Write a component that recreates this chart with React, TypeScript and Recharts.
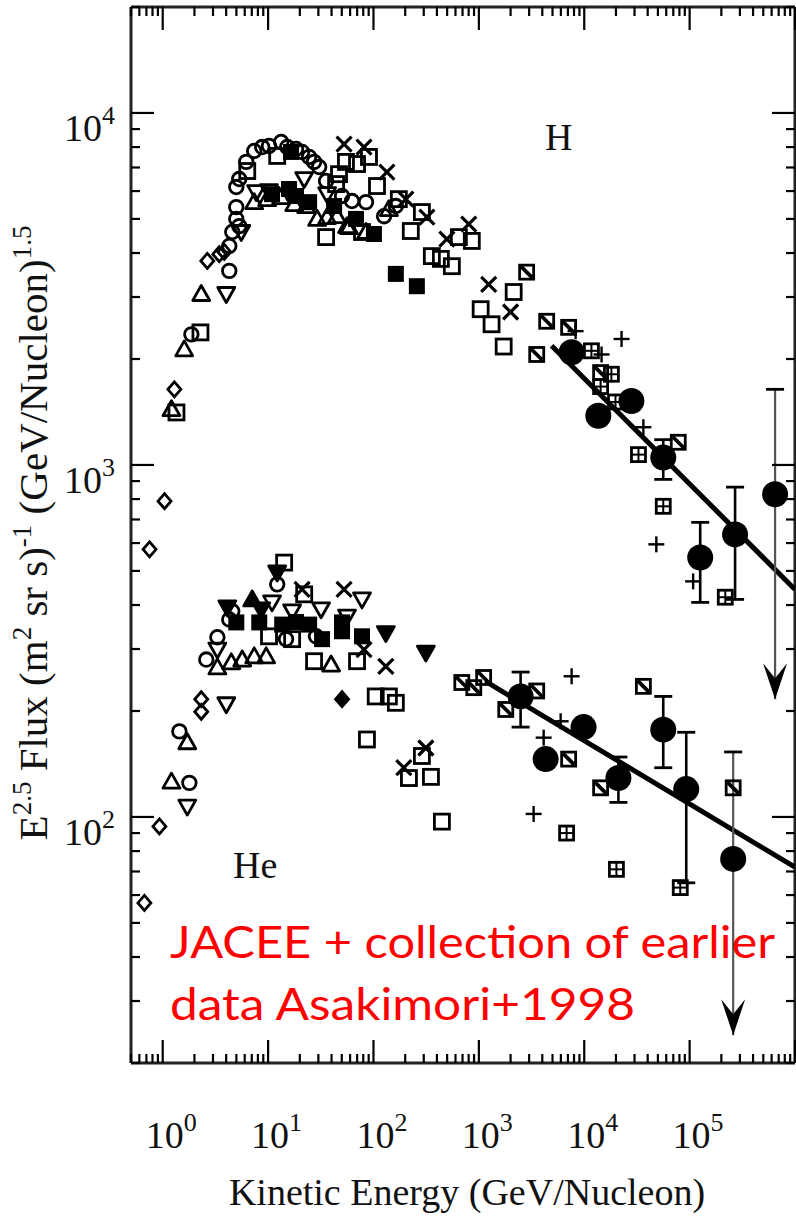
import React from "react";
import { ScatterChart, Scatter, XAxis, YAxis } from "recharts";

// Energy in GeV/nucleon, flux multiplied by E^2.5 — [energy, flux]
const H_DIAMOND = [[0.75, 576], [1.04, 789], [1.29, 1640], [2.65, 3800], [3.44, 3970], [3.84, 4030]];
const H_CIRCLE = [
  [1.87, 2350], [4.28, 3560], [4.28, 4190], [4.57, 4590], [4.99, 5000], [5.32, 4770], [4.99, 5400],
  [4.99, 6160], [5.32, 6490], [6.2, 7260], [7.38, 7800], [8.79, 8000], [10.2, 8060], [13.3, 8270],
  [15.2, 8000], [18.4, 7900], [21, 7750], [24.5, 7500], [27.3, 7260], [30.5, 7020], [35.5, 6410],
  [50.3, 5810], [62.5, 5620], [84.9, 5580], [126, 5090], [163, 5440],
];
const H_SQUARE = [
  [1.35, 1410], [2.28, 2380], [6.34, 6840], [12.2, 7550], [35.5, 4440], [47.1, 6700], [44.2, 6280],
  [54.8, 7260], [69.8, 7160], [90.6, 7500], [108, 6200], [77.8, 4590], [174, 5690], [288, 5230],
  [226, 4620], [358, 3920], [436, 3850], [554, 3670], [646, 4440], [857, 4330], [2140, 3100],
  [1040, 2770], [1320, 2510], [1720, 2170],
];
const H_TRI_UP = [
  [1.21, 1440], [1.6, 2130], [2.32, 3060], [7.38, 5580], [9.8, 5690], [13.3, 5770], [17.7, 5510],
  [23, 5440], [29.2, 5000], [36.3, 5060], [45.1, 5090], [56.1, 4770], [84.9, 4590], [58.6, 4740],
  [140, 5330],
];
const H_TRI_DOWN = [[4.01, 3060], [5.56, 4590], [7.71, 5960], [10.2, 6000], [22, 6490], [36.3, 5880]];
const H_FILLED_SQ = [
  [10.9, 5880], [15.8, 6080], [18.4, 5810], [16.5, 7750], [24.5, 5580], [42.3, 5440], [68.2, 5000],
  [101, 4530], [163, 3490], [258, 3220],
];
const H_CROSS = [
  [52.6, 8160], [81.3, 8000], [134, 6790], [203, 5690], [321, 5060], [497, 4380], [802, 4830],
  [1240, 3260], [2000, 2720],
];
const H_SLASH = [[2840, 3530], [4400, 2560], [7110, 2460], [3540, 2060], [14300, 1830], [78000, 1160]];
const H_GRID = [[11700, 2110], [18100, 1810], [14300, 1670], [19800, 1510], [32700, 1070], [56200, 763], [218000, 421]];
const H_PLUS = [[8280, 2400], [22600, 2280], [14600, 2060], [36400, 1280], [48300, 595], [108000, 467]];
const H_JACEE = [[7590, 2090], [13600, 1380], [28000, 1520], [56200, 1050], [126000, 546], [270000, 635], [647000, 826]];
const H_BARS = [
  { e: 56200, lo: 910, hi: 1180 },
  { e: 126000, lo: 407, hi: 687 },
  { e: 270000, lo: 415, hi: 865 },
];
const H_LIMIT = [{ e: 647000, lo: 216, hi: 1640 }];
const H_FIT = [[4900, 2180], [1000000, 443]];

const HE_DIAMOND = [[0.67, 57], [0.93, 94], [2.32, 216], [2.32, 199]];
const HE_CIRCLE = [[1.44, 175], [1.79, 125], [2.59, 280], [3.3, 324], [4.57, 384], [4.28, 364], [12.2, 458], [14.8, 320], [28.5, 326]];
const HE_TRI_UP = [[1.71, 163], [1.21, 126], [3.3, 266], [4.47, 275], [5.68, 280], [7.38, 286], [9.59, 286], [39.6, 271]];
const HE_TRI_DOWN = [[1.71, 107], [4.01, 209], [3.3, 299], [10.9, 407], [16.9, 384], [31.8, 389], [56.1, 371], [77.8, 415]];
const HE_FILLED_TRI_DOWN = [[4.1, 394], [8.6, 389], [12.2, 495], [131, 333], [314, 293]];
const HE_FILLED_TRI_UP = [[7.07, 415]];
const HE_FILLED_SQ = [[4.99, 357], [8.24, 357], [13.6, 352], [18.4, 358], [24.5, 352], [32.5, 320], [50.3, 357], [50.3, 337], [77.8, 326]];
const HE_SQUARE = [
  [14.2, 528], [22, 429], [16.9, 320], [10.2, 326], [27.3, 277], [69.8, 277], [105, 220], [140, 220],
  [163, 211], [86.7, 166], [288, 149], [217, 129], [351, 130], [446, 97],
];
const HE_CROSS = [[21, 443], [52.6, 443], [81.3, 299], [131, 268], [314, 157], [194, 138]];
const HE_FILLED_DIAMOND = [[50.3, 216]];
const HE_SLASH = [[689, 241], [895, 233], [1110, 249], [1800, 202], [3540, 228], [7110, 146], [14300, 121], [36400, 235], [259000, 121]];
const HE_GRID = [[6800, 90], [20200, 71], [81500, 63]];
const HE_PLUS = [[7590, 251], [5970, 187], [4120, 168], [3310, 102]];
const HE_JACEE = [[2490, 220], [4300, 146], [9850, 180], [21100, 129], [56200, 177], [92900, 120], [259000, 76]];
const HE_BARS = [
  { e: 2490, lo: 180, hi: 258 },
  { e: 21100, lo: 110, hi: 148 },
  { e: 56200, lo: 138, hi: 220 },
  { e: 92900, lo: 65, hi: 174 },
];
const HE_LIMIT = [{ e: 259000, lo: 24, hi: 153 }];
const HE_FIT = [[1150, 243], [1000000, 72]];

const X_DOMAIN = [0.5, 1000000];
const Y_DOMAIN = [20, 20000];
const X_LABELED = [0, 1, 2, 3, 4, 5];
const Y_LABELED = [2, 3, 4];

const decadeTicks = (lo: number, hi: number) => {
  const out: number[] = [];
  for (let d = -1; d <= 6; d++) {
    for (let m = 1; m <= 9; m++) {
      const v = +(m * Math.pow(10, d)).toPrecision(3);
      if (v >= lo && v <= hi) out.push(v);
    }
  }
  return out;
};
const X_TICKS = decadeTicks(X_DOMAIN[0], X_DOMAIN[1]);
const Y_TICKS = decadeTicks(Y_DOMAIN[0], Y_DOMAIN[1]);

const toPts = (rows: number[][]) => rows.map(([e, f]) => ({ e, f }));

const SERIF = '"Liberation Serif", "Times New Roman", serif';
const INK = "#000";
const SW = 2.8;
const MAJOR = 23;
const MINOR = 9;

const isMajor = (v: number) => Math.abs(Math.log10(v) - Math.round(Math.log10(v))) < 1e-6;
const power = (v: number) => Math.round(Math.log10(v));

// ---------- ticks (all pointing into the frame) ----------
function BottomTick({ x, y, payload }: any) {
  const v = payload.value;
  const major = isMajor(v);
  const p = power(v);
  return (
    <g>
      <line x1={x} x2={x} y1={y} y2={y - (major ? MAJOR : MINOR)} stroke={INK} strokeWidth={2.2} />
      {major && X_LABELED.includes(p) && (
        <text x={x - 17} y={y + 85} fontFamily={SERIF} fontSize={38} fill="#111">
          10<tspan fontSize={26} dy={-17}>{p}</tspan>
        </text>
      )}
    </g>
  );
}

function TopTick({ x, y, payload }: any) {
  const major = isMajor(payload.value);
  return <line x1={x} x2={x} y1={y} y2={y + (major ? MAJOR : MINOR)} stroke={INK} strokeWidth={2.2} />;
}

function LeftTick({ x, y, payload }: any) {
  const v = payload.value;
  const major = isMajor(v);
  const p = power(v);
  return (
    <g>
      <line x1={x} x2={x + (major ? MAJOR : MINOR)} y1={y} y2={y} stroke={INK} strokeWidth={2.2} />
      {major && Y_LABELED.includes(p) && (
        <text x={x - 16} y={y + 28} textAnchor="end" fontFamily={SERIF} fontSize={38} fill="#111">
          10<tspan fontSize={26} dy={-17}>{p}</tspan>
        </text>
      )}
    </g>
  );
}

function RightTick({ x, y, payload }: any) {
  const major = isMajor(payload.value);
  return <line x1={x} x2={x - (major ? MAJOR : MINOR)} y1={y} y2={y} stroke={INK} strokeWidth={2.2} />;
}

// ---------- marker shapes ----------
const openCircle = ({ cx, cy }: any) => <circle cx={cx} cy={cy} r={6.8} fill="none" stroke={INK} strokeWidth={SW} />;
const openSquare = ({ cx, cy }: any) => (
  <rect x={cx - 7.5} y={cy - 7.5} width={15} height={15} fill="none" stroke={INK} strokeWidth={SW} />
);
const filledSquare = ({ cx, cy }: any) => <rect x={cx - 8} y={cy - 8} width={16} height={16} fill={INK} />;
const triUp = (fill: string) => ({ cx, cy }: any) => (
  <polygon
    points={`${cx},${cy - 8.5} ${cx - 8.5},${cy + 6.5} ${cx + 8.5},${cy + 6.5}`}
    fill={fill}
    stroke={INK}
    strokeWidth={SW}
    strokeLinejoin="round"
  />
);
const triDown = (fill: string) => ({ cx, cy }: any) => (
  <polygon
    points={`${cx},${cy + 8.5} ${cx - 8.5},${cy - 6.5} ${cx + 8.5},${cy - 6.5}`}
    fill={fill}
    stroke={INK}
    strokeWidth={SW}
    strokeLinejoin="round"
  />
);
const diamond = (fill: string) => ({ cx, cy }: any) => (
  <polygon
    points={`${cx},${cy - 7.5} ${cx + 6.5},${cy} ${cx},${cy + 7.5} ${cx - 6.5},${cy}`}
    fill={fill}
    stroke={INK}
    strokeWidth={SW}
  />
);
const cross = ({ cx, cy }: any) => (
  <g stroke={INK} strokeWidth={3.2}>
    <line x1={cx - 7.5} y1={cy - 7.5} x2={cx + 7.5} y2={cy + 7.5} />
    <line x1={cx - 7.5} y1={cy + 7.5} x2={cx + 7.5} y2={cy - 7.5} />
  </g>
);
const plus = ({ cx, cy }: any) => (
  <g stroke={INK} strokeWidth={2.4}>
    <line x1={cx - 8} y1={cy} x2={cx + 8} y2={cy} />
    <line x1={cx} y1={cy - 8} x2={cx} y2={cy + 8} />
  </g>
);
const gridSquare = ({ cx, cy }: any) => (
  <g stroke={INK} fill="none">
    <rect x={cx - 7} y={cy - 7} width={14} height={14} strokeWidth={SW} />
    <line x1={cx - 7} y1={cy} x2={cx + 7} y2={cy} strokeWidth={2} />
    <line x1={cx} y1={cy - 7} x2={cx} y2={cy + 7} strokeWidth={2} />
  </g>
);
const slashSquare = ({ cx, cy }: any) => (
  <g stroke={INK} fill="none">
    <rect x={cx - 7} y={cy - 7} width={14} height={14} strokeWidth={SW} />
    <line x1={cx - 5.5} y1={cy - 5.5} x2={cx + 5.5} y2={cy + 5.5} strokeWidth={3.8} />
  </g>
);
const bigDot = ({ cx, cy }: any) => <circle cx={cx} cy={cy} r={13} fill={INK} />;
const noMark = () => <g />;

const barEnd = ({ cx, cy }: any) => (
  <line x1={cx - 9} x2={cx + 9} y1={cy} y2={cy} stroke={INK} strokeWidth={SW} />
);
const limitEnd = ({ cx, cy, payload }: any) =>
  payload && payload.end === "lo" ? (
    <polygon
      points={`${cx},${cy} ${cx - 12},${cy - 36} ${cx},${cy - 21} ${cx + 12},${cy - 36}`}
      fill={INK}
    />
  ) : (
    <line x1={cx - 9} x2={cx + 9} y1={cy} y2={cy} stroke={INK} strokeWidth={SW} />
  );

const barPts = (b: { e: number; lo: number; hi: number }) => [
  { e: b.e, f: b.lo, end: "lo" },
  { e: b.e, f: b.hi, end: "hi" },
];

const MARKS: [string, number[][], any][] = [
  ["h-diamond", H_DIAMOND, diamond("none")],
  ["h-circle", H_CIRCLE, openCircle],
  ["h-square", H_SQUARE, openSquare],
  ["h-tri-up", H_TRI_UP, triUp("none")],
  ["h-tri-down", H_TRI_DOWN, triDown("none")],
  ["h-filled-sq", H_FILLED_SQ, filledSquare],
  ["h-cross", H_CROSS, cross],
  ["h-slash", H_SLASH, slashSquare],
  ["h-grid", H_GRID, gridSquare],
  ["h-plus", H_PLUS, plus],
  ["he-diamond", HE_DIAMOND, diamond("none")],
  ["he-circle", HE_CIRCLE, openCircle],
  ["he-tri-up", HE_TRI_UP, triUp("none")],
  ["he-tri-down", HE_TRI_DOWN, triDown("none")],
  ["he-filled-tri-down", HE_FILLED_TRI_DOWN, triDown(INK)],
  ["he-filled-tri-up", HE_FILLED_TRI_UP, triUp(INK)],
  ["he-filled-sq", HE_FILLED_SQ, filledSquare],
  ["he-square", HE_SQUARE, openSquare],
  ["he-cross", HE_CROSS, cross],
  ["he-filled-diamond", HE_FILLED_DIAMOND, diamond(INK)],
  ["he-slash", HE_SLASH, slashSquare],
  ["he-grid", HE_GRID, gridSquare],
  ["he-plus", HE_PLUS, plus],
];

const yTitle = () => (
  <text
    transform="translate(47, 533) rotate(-90)"
    textAnchor="middle"
    fontFamily={SERIF}
    fontSize={41}
    fill="#111"
  >
    E<tspan fontSize={27} dy={-16}>2.5</tspan>
    <tspan dy={16}> Flux (m</tspan>
    <tspan fontSize={27} dy={-16}>2</tspan>
    <tspan dy={16}> sr s)</tspan>
    <tspan fontSize={27} dy={-16}>-1</tspan>
    <tspan dy={16}> (GeV/Nucleon)</tspan>
    <tspan fontSize={27} dy={-16}>1.5</tspan>
  </text>
);

const xTitle = () => (
  <text x={467} y={1205} textAnchor="middle" fontFamily={SERIF} fontSize={38} fill="#111">
    Kinetic Energy (GeV/Nucleon)
  </text>
);

export default function App() {
  const axisLine = { stroke: "#222", strokeWidth: 3 };
  return (
    <div style={{ position: "absolute", left: 0, top: 0, width: 796, height: 1227, background: "#fff" }}>
      <ScatterChart width={796} height={1227} margin={{ top: 0, right: 0, bottom: 0, left: 0 }}>
        <XAxis
          xAxisId="bottom"
          dataKey="e"
          type="number"
          scale="log"
          domain={X_DOMAIN}
          allowDataOverflow
          ticks={X_TICKS}
          interval={0}
          height={164}
          tickSize={0}
          tickMargin={0}
          tickLine={false}
          axisLine={axisLine}
          tick={<BottomTick />}
          label={xTitle}
        />
        <XAxis
          xAxisId="top"
          orientation="top"
          dataKey="e"
          type="number"
          scale="log"
          domain={X_DOMAIN}
          allowDataOverflow
          ticks={X_TICKS}
          interval={0}
          height={7}
          tickSize={0}
          tickMargin={0}
          tickLine={false}
          axisLine={axisLine}
          tick={<TopTick />}
        />
        <YAxis
          yAxisId="left"
          dataKey="f"
          type="number"
          scale="log"
          domain={Y_DOMAIN}
          allowDataOverflow
          ticks={Y_TICKS}
          interval={0}
          width={131}
          tickSize={0}
          tickMargin={0}
          tickLine={false}
          axisLine={axisLine}
          tick={<LeftTick />}
          label={yTitle}
        />
        <YAxis
          yAxisId="right"
          orientation="right"
          dataKey="f"
          type="number"
          scale="log"
          domain={Y_DOMAIN}
          allowDataOverflow
          ticks={Y_TICKS}
          interval={0}
          width={1}
          tickSize={0}
          tickMargin={0}
          tickLine={false}
          axisLine={axisLine}
          tick={<RightTick />}
        />

        {/* power-law fits */}
        {[H_FIT, HE_FIT].map((fit, i) => (
          <Scatter
            key={`fit-${i}`}
            xAxisId="bottom"
            yAxisId="left"
            data={toPts(fit)}
            line={{ stroke: INK, strokeWidth: 5 }}
            shape={noMark}
            isAnimationActive={false}
          />
        ))}

        {/* error bars */}
        {[...H_BARS, ...HE_BARS].map((b, i) => (
          <Scatter
            key={`bar-${i}`}
            xAxisId="bottom"
            yAxisId="left"
            data={barPts(b)}
            line={{ stroke: INK, strokeWidth: 2.6 }}
            shape={barEnd}
            isAnimationActive={false}
          />
        ))}

        {/* upper limits */}
        {[...H_LIMIT, ...HE_LIMIT].map((b, i) => (
          <Scatter
            key={`limit-${i}`}
            xAxisId="bottom"
            yAxisId="left"
            data={barPts(b)}
            line={{ stroke: "#555", strokeWidth: 2.2 }}
            shape={limitEnd}
            isAnimationActive={false}
          />
        ))}

        {MARKS.map(([name, rows, shape]) => (
          <Scatter
            key={name}
            name={name}
            xAxisId="bottom"
            yAxisId="left"
            data={toPts(rows)}
            shape={shape}
            isAnimationActive={false}
          />
        ))}

        {/* JACEE */}
        <Scatter xAxisId="bottom" yAxisId="left" data={toPts(H_JACEE)} shape={bigDot} isAnimationActive={false} />
        <Scatter xAxisId="bottom" yAxisId="left" data={toPts(HE_JACEE)} shape={bigDot} isAnimationActive={false} />
      </ScatterChart>

      <svg
        width={796}
        height={1227}
        style={{ position: "absolute", left: 0, top: 0, pointerEvents: "none" }}
      >
        <text x={545} y={150} fontFamily={SERIF} fontSize={38} fill="#111">H</text>
        <text x={233} y={878} fontFamily={SERIF} fontSize={38} fill="#111">He</text>
        <g fontFamily='Lato, "Open Sans", sans-serif' fontSize={44} fill="#ff0000">
          <text x={170} y={958} textLength={605} lengthAdjust="spacingAndGlyphs">
            JACEE + collection of earlier
          </text>
          <text x={170} y={1020} textLength={465} lengthAdjust="spacingAndGlyphs">
            data Asakimori+1998
          </text>
        </g>
      </svg>
    </div>
  );
}
